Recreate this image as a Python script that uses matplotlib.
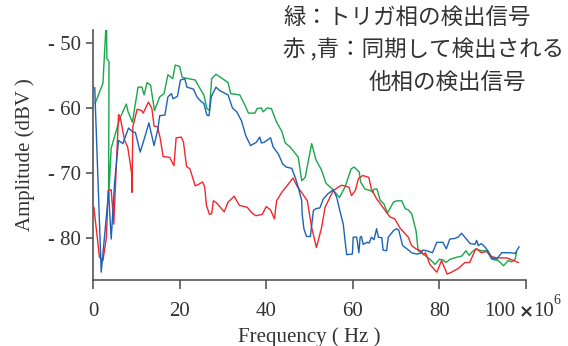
import numpy as np
import matplotlib
matplotlib.use("Agg")
import matplotlib.pyplot as plt
from matplotlib.ticker import FixedLocator, FixedFormatter

# frequency in units of 1e6 Hz, amplitude in dBV
green_f = [0.5, 2.3, 3.1, 3.2, 3.7, 3.6, 4.2, 6.2, 7.7, 8.1, 9.1, 10.4, 11.3, 11.8, 12.5,
           13.3, 14.2, 15.4, 16.4, 17.3, 18.4, 19.0, 20.0, 20.6, 23.6, 24.7, 25.6, 26.3,
           26.9, 27.4, 28.4, 31.2, 31.8, 33.9, 35.1, 35.9, 37.4, 37.9, 38.9, 39.3, 40.2,
           41.2, 42.4, 43.6, 44.4, 45.5, 46.7, 47.4, 48.2, 49.0, 50.5, 51.5, 52.8, 53.8,
           55.3, 56.9, 58.2, 59.6, 60.3, 61.5, 61.8, 62.8, 64.0, 64.6, 64.9, 65.6, 66.3,
           67.2, 68.0, 69.4, 70.2, 71.3, 72.1, 72.8, 73.6, 74.6, 75.1, 75.9, 77.8, 79.0,
           80.0, 80.8, 81.5, 82.5, 84.0, 85.2, 86.1, 86.9, 87.5, 88.4, 89.7, 90.9, 92.1,
           93.6, 94.8, 95.9, 96.7, 97.5, 97.8]
green_a = [-59.3, -56.2, -46.0, -52.4, -52.9, -74.0, -66.2, -61.6, -59.4, -60.6, -62.2,
           -56.8, -56.8, -58.0, -56.1, -56.5, -60.4, -58.3, -57.8, -54.9, -55.5, -53.4,
           -53.6, -55.3, -55.7, -57.0, -58.0, -60.1, -60.4, -55.5, -54.8, -56.1, -57.8,
           -58.0, -59.6, -60.8, -60.8, -60.1, -60.0, -60.6, -60.0, -60.1, -62.2, -63.6,
           -65.4, -66.0, -67.0, -67.6, -71.2, -70.7, -65.5, -68.0, -69.6, -71.6, -72.5,
           -73.8, -72.2, -69.4, -69.1, -69.9, -71.4, -72.5, -72.7, -73.0, -72.5, -72.5,
           -74.2, -74.8, -76.2, -74.5, -74.3, -74.3, -75.5, -75.7, -76.3, -78.9, -82.0,
           -82.3, -83.3, -84.1, -83.3, -83.4, -83.8, -83.3, -83.0, -82.8, -82.0, -82.7,
           -82.2, -81.7, -82.0, -82.0, -83.3, -83.5, -84.3, -83.5, -83.7, -83.3, -82.3]

blue_f = [0.4, 1.9, 3.6, 4.2, 5.0, 5.9, 6.9, 8.2, 9.2, 9.8, 10.9, 12.1, 12.9, 14.1, 15.0,
          15.4, 16.6, 17.3, 18.1, 18.5, 19.5, 20.2, 21.2, 21.7, 23.2, 24.0, 25.1, 25.6,
          26.3, 26.8, 27.3, 28.4, 29.2, 31.2, 32.2, 33.2, 34.3, 35.3, 36.4, 37.7, 38.5,
          38.9, 39.5, 41.0, 41.6, 42.8, 43.8, 44.6, 45.9, 46.7, 47.4, 48.2, 48.3, 48.7,
          49.3, 50.2, 50.9, 51.5, 52.4, 53.2, 54.3, 55.5, 56.3, 57.0, 57.8, 58.2, 58.6,
          59.9, 60.1, 60.9, 61.4, 61.7, 62.0, 62.4, 63.3, 63.8, 64.3, 64.9, 65.5, 65.9,
          66.7, 67.0, 67.8, 68.2, 69.4, 70.1, 70.6, 71.5, 72.5, 73.6, 74.7, 75.6, 76.2,
          77.1, 78.4, 79.4, 80.8, 81.6, 82.4, 83.5, 84.3, 85.1, 86.0, 87.1, 88.2, 88.6,
          89.0, 89.7, 90.5, 91.3, 92.1, 93.2, 94.4, 95.2, 96.3, 97.5, 98.4]
blue_a = [-56.9, -85.3, -73.0, -80.2, -71.4, -65.0, -65.5, -63.1, -63.7, -63.8, -66.8,
          -64.2, -62.3, -65.8, -63.2, -61.2, -61.1, -58.3, -57.8, -58.6, -58.2, -55.7,
          -55.5, -56.8, -57.1, -58.3, -59.1, -59.3, -61.1, -61.2, -58.3, -56.8, -57.3,
          -58.0, -60.0, -60.6, -62.0, -64.3, -65.8, -65.3, -64.5, -65.4, -65.3, -64.6,
          -66.0, -67.1, -68.6, -69.1, -69.3, -70.7, -72.2, -74.3, -76.3, -78.6, -79.8,
          -79.8, -75.8, -75.5, -75.4, -74.0, -73.2, -72.6, -73.8, -75.8, -77.9, -80.4,
          -82.6, -82.5, -79.9, -79.9, -82.3, -79.9, -79.8, -81.0, -80.7, -80.8, -79.9,
          -80.3, -78.6, -79.9, -80.0, -81.9, -82.0, -79.9, -78.9, -78.6, -78.8, -81.2,
          -81.7, -82.3, -82.5, -82.4, -81.9, -82.0, -82.3, -80.7, -80.7, -81.7, -80.2,
          -80.1, -79.9, -79.3, -80.0, -80.9, -81.0, -80.4, -81.2, -80.9, -81.4, -82.1,
          -83.1, -83.3, -82.3, -82.3, -82.3, -82.4, -81.4]

red_f = [0.2, 1.5, 2.3, 3.1, 3.5, 4.2, 4.8, 5.9, 6.3, 7.3, 8.0, 8.5, 8.9, 9.0, 9.2, 10.2,
         11.2, 11.6, 12.8, 13.6, 14.1, 14.9, 15.5, 16.2, 17.7, 18.7, 19.2, 20.4, 20.9,
         21.6, 22.4, 23.6, 24.3, 25.3, 25.8, 26.2, 26.9, 27.4, 27.8, 28.5, 30.3, 31.2,
         32.6, 33.8, 35.6, 36.6, 37.6, 39.1, 40.0, 41.0, 41.9, 42.4, 43.6, 46.2, 47.1,
         49.5, 50.5, 51.6, 52.8, 53.6, 55.5, 57.4, 59.1, 59.7, 60.6, 61.3, 62.3, 63.7,
         64.3, 65.5, 66.4, 67.8, 68.6, 69.7, 70.9, 72.8, 73.6, 74.6, 75.7, 76.3, 76.8,
         77.8, 79.4, 80.5, 81.8, 82.8, 84.4, 85.9, 87.0, 88.2, 88.6, 89.7, 90.9, 92.1,
         93.2, 94.4, 95.6, 96.7, 98.2]
red_a = [-75.3, -83.0, -83.5, -79.9, -72.7, -72.6, -77.9, -61.0, -61.5, -65.0, -66.0,
         -68.1, -70.0, -73.0, -62.9, -60.2, -60.4, -60.8, -59.1, -60.1, -62.8, -62.9,
         -64.6, -67.5, -67.6, -68.9, -64.6, -64.5, -65.3, -69.0, -69.4, -72.0, -71.8,
         -71.4, -72.2, -75.0, -76.4, -76.3, -74.3, -74.6, -76.0, -74.5, -73.6, -75.0,
         -75.3, -76.1, -76.6, -76.4, -75.2, -75.7, -77.1, -74.3, -73.0, -70.8, -72.0,
         -74.3, -78.4, -81.5, -78.4, -75.3, -72.7, -71.9, -72.2, -73.5, -72.7, -70.9,
         -70.4, -70.7, -72.5, -74.0, -74.8, -76.1, -76.8, -77.1, -78.5, -79.9, -81.2,
         -81.7, -82.0, -82.6, -82.3, -84.1, -85.3, -83.5, -85.6, -85.3, -84.7, -83.8,
         -83.8, -82.0, -81.7, -82.3, -82.1, -82.9, -83.1, -83.1, -83.1, -83.4, -83.8]

x_ticks = [0, 20, 40, 60, 80, 100]
x_labels = ["0", "20", "40", "60", "80", ""]   # "100" drawn with the multiplier
y_ticks = [-80, -70, -60, -50]
y_labels = ["- 80", "- 70", "- 60", "- 50"]

note_lines = ["緑：トリガ相の検出信号", "赤 ,青：同期して検出される", "他相の検出信号"]

serif = "Liberation Serif"
axis_col = "#555555"
txt_col = "#333333"

fig = plt.figure(figsize=(5.68, 3.46), dpi=100)
ax = fig.add_axes([93 / 568, 1 - 280 / 346, (526 - 93) / 568, (280 - 30) / 346])

ax.plot(green_f, green_a, color="#1aa64a", lw=1.0)
ax.plot(red_f, red_a, color="#f2262b", lw=1.0)
ax.plot(blue_f, blue_a, color="#1c62b8", lw=1.0)

ax.set_xlim(0, 100)
ax.set_ylim(-86.5, -48.0)

for s in ["top", "right"]:
    ax.spines[s].set_visible(False)
for s in ["left", "bottom"]:
    ax.spines[s].set_color(axis_col)
    ax.spines[s].set_linewidth(1.2)

ax.xaxis.set_major_locator(FixedLocator(x_ticks))
ax.xaxis.set_major_formatter(FixedFormatter(x_labels))
ax.yaxis.set_major_locator(FixedLocator(y_ticks))
ax.yaxis.set_major_formatter(FixedFormatter(y_labels))
ax.tick_params(axis="both", direction="out", width=1.2, color=axis_col,
               labelsize=15, labelcolor=txt_col)
ax.tick_params(axis="x", length=6.5, pad=9)
ax.tick_params(axis="y", length=5, pad=4)
for lab in ax.get_xticklabels() + ax.get_yticklabels():
    lab.set_family(serif)

ax.set_xlabel("Frequency ( Hz )", family=serif, fontsize=15, color=txt_col, labelpad=5)
ax.set_ylabel("Amplitude (dBV )", family=serif, fontsize=15, color=txt_col, labelpad=9)

# "100 x 10^6" centred under the last tick
ty = 1 - 312 / 346
fig.text(500 / 568, ty, "100", family=serif, fontsize=15, color=txt_col,
         ha="center", va="center")
fig.text(519 / 568, ty, "×", family="DejaVu Sans", fontweight="bold",
         fontsize=13, color=txt_col, ha="left", va="center")
fig.text(533 / 568, ty, "10", family=serif, fontsize=15, color=txt_col,
         ha="left", va="center")
fig.text(553 / 568, 1 - 301 / 346, "6", family=serif, fontsize=10, color=txt_col,
         ha="left", va="center")

jp = ["Noto Sans CJK JP", "DejaVu Sans"]
fig.text(283 / 568, 1 - 18 / 346, note_lines[0], family=jp, fontsize=16.2,
         color=txt_col, ha="left", va="center")
fig.text(283 / 568, 1 - 50 / 346, note_lines[1], family=jp, fontsize=16.2,
         color=txt_col, ha="left", va="center")
fig.text(369 / 568, 1 - 82 / 346, note_lines[2], family=jp, fontsize=16.2,
         color=txt_col, ha="left", va="center")

fig.savefig("out.png", dpi=100)
